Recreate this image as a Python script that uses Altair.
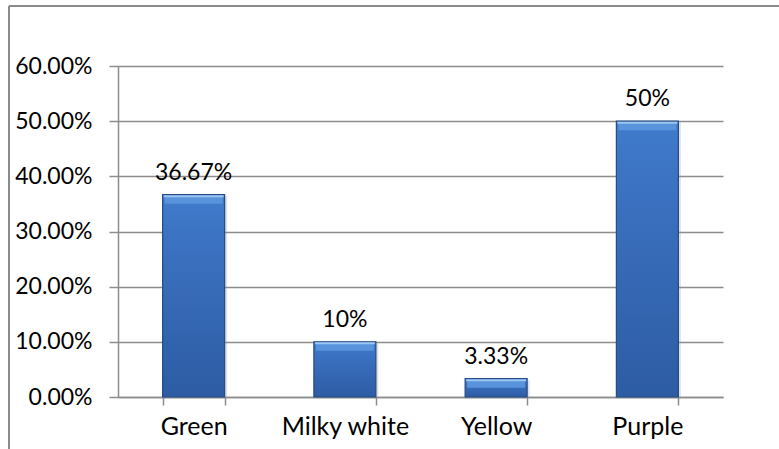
import altair as alt
import pandas as pd

categories = ["Green", "Milky white", "Yellow", "Purple"]
shares = [0.3667, 0.10, 0.0333, 0.50]
share_labels = ["36.67%", "10%", "3.33%", "50%"]

df = pd.DataFrame({"color": categories, "share": shares, "label": share_labels})

FONT = "Lato"
GRID = "#8c8c8c"

x_enc = alt.X(
    "color:N",
    sort=categories,
    title=None,
    scale=alt.Scale(paddingInner=0.59, paddingOuter=0.295),
    axis=alt.Axis(
        labelAngle=0,
        labelFont=FONT,
        labelFontSize=25,
        labelColor="#000000",
        labelPadding=9,
        tickBand="extent",
        tickSize=8,
        tickColor=GRID,
        tickWidth=1.5,
        domainColor=GRID,
        domainWidth=1.5,
        grid=False,
    ),
)
y_enc = alt.Y(
    "share:Q",
    title=None,
    scale=alt.Scale(domain=[0, 0.6], nice=False),
    axis=alt.Axis(
        values=[0, 0.1, 0.2, 0.3, 0.4, 0.5, 0.6],
        format=".2%",
        labelFont=FONT,
        labelFontSize=23,
        labelColor="#000000",
        labelPadding=17,
        tickSize=9,
        tickColor=GRID,
        tickWidth=1.5,
        domainColor=GRID,
        domainWidth=1.5,
        gridColor=GRID,
        gridWidth=1.5,
    ),
)

# bar body: darker toward the base
body_fill = alt.Gradient(
    gradient="linear",
    x1=0, y1=0, x2=0, y2=1,
    stops=[
        alt.GradientStop(color="#407bcb", offset=0),
        alt.GradientStop(color="#3a70bf", offset=0.3),
        alt.GradientStop(color="#2d5ca3", offset=1),
    ],
)

x_plain = alt.X("color:N", sort=categories)

# soft drop shadow under each bar
shadow = alt.Chart(df).mark_bar(
    size=64, color="#9a9a9a", opacity=0.3, xOffset=1.5, yOffset=1.5
).encode(x=x_enc, y=y_enc)

bars = alt.Chart(df).mark_bar(
    size=62, fill=body_fill, stroke="#254a85", strokeWidth=1.2
).encode(x=x_enc, y=y_enc)

# light bevel strips along the top of each bar
bevel = alt.Chart(df).mark_tick(
    size=58, thickness=8, yOffset=5, color="#5893dc", opacity=1
).encode(x=x_plain, y="share:Q")
bevel_hi = alt.Chart(df).mark_tick(
    size=60, thickness=2, yOffset=1.5, color="#9cc6f2", opacity=1
).encode(x=x_plain, y="share:Q")

labels = alt.Chart(df).mark_text(
    font=FONT, fontSize=23, color="#000000", baseline="alphabetic", dy=-15
).encode(x=x_plain, y="share:Q", text="label:N")

# outer frame: top edge and left edge of the chart box
frame_top = alt.Chart(df).mark_rule(color="#8a8a8a", strokeWidth=2).encode(
    x=alt.value(-109), x2=alt.value(661), y=alt.value(-60)
)
frame_left = alt.Chart(df).mark_rule(color="#8a8a8a", strokeWidth=2).encode(
    x=alt.value(-109), y=alt.value(-60), y2=alt.value(383)
)

chart = (
    alt.layer(shadow, bars, bevel, bevel_hi, labels, frame_top, frame_left)
    .properties(
        width=605,
        height=331,
        autosize=alt.AutoSizeParams(type="none"),
        padding={"left": 118, "top": 66, "right": 56, "bottom": 52},
        background="#ffffff",
    )
    .configure_view(stroke=None)
)

chart.save("out.html", embed_options={"renderer": "svg", "actions": False})
